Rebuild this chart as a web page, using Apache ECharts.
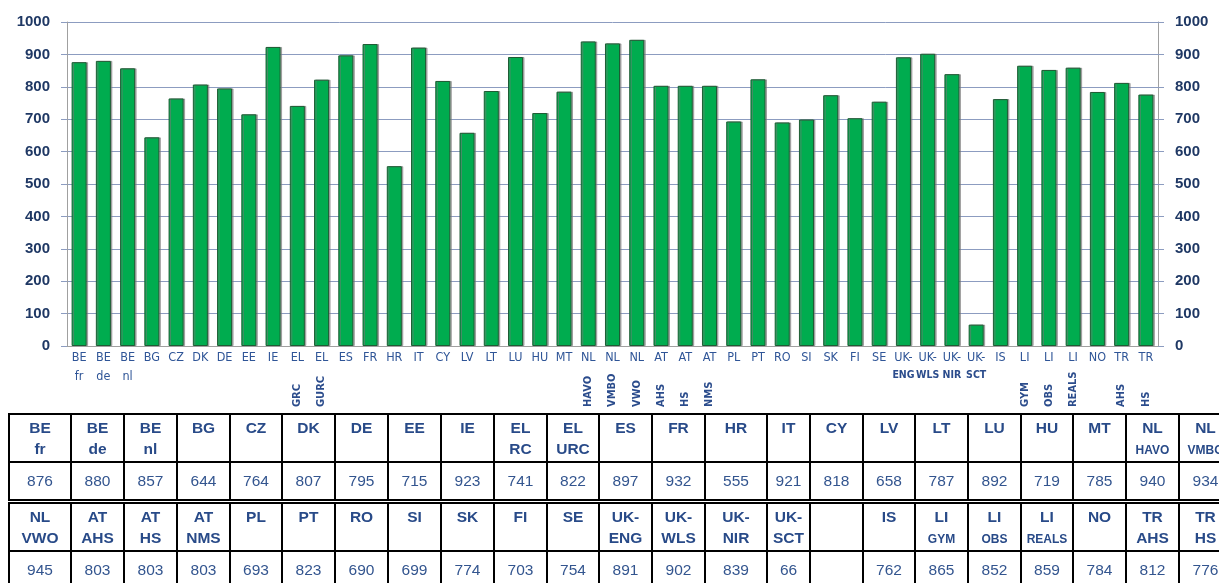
<!DOCTYPE html>
<html>
<head>
<meta charset="utf-8">
<script src="https://cdn.jsdelivr.net/npm/echarts@6/dist/echarts.min.js"></script>
<style>
html,body{margin:0;padding:0;background:#fff;width:1219px;height:583px;overflow:hidden;font-family:'Liberation Sans',Arial,sans-serif;}
#chart{position:absolute;left:0;top:0;width:1219px;height:583px;}
table.t{position:absolute;left:8px;border-collapse:collapse;table-layout:fixed;}
table.t td{border:2px solid #000;text-align:center;padding:0;color:#284A88;overflow:hidden;white-space:nowrap;}
table.t tr.h td{vertical-align:top;font-weight:bold;font-size:15.5px;line-height:21px;padding-top:2px;}
table.t tr.v td{vertical-align:middle;font-size:15.5px;color:#33558F;}
table.t span.s{font-size:12px;}
</style>
</head>
<body>
<div id="chart"></div>
<table class="t" id="t1"></table>
<table class="t" id="t2"></table>
<script>
// ---- data ----
const codes = ['BE','BE','BE','BG','CZ','DK','DE','EE','IE','EL','EL','ES','FR','HR','IT','CY','LV','LT','LU','HU','MT','NL','NL','NL','AT','AT','AT','PL','PT','RO','SI','SK','FI','SE','UK-','UK-','UK-','UK-','IS','LI','LI','LI','NO','TR','TR'];
const subHoriz = ['fr','de','nl','','','','','','','','','','','','','','','','','','','','','','','','','','','','','','','','ENG','WLS','NIR','SCT','','','','','','',''];
const subVert = ['','','','','','','','','','GRC','GURC','','','','','','','','','','','HAVO','VMBO','VWO','AHS','HS','NMS','','','','','','','','','','','','','GYM','OBS','REALS','','AHS','HS'];
const values = [876,880,857,644,764,807,795,715,923,741,822,897,932,555,921,818,658,787,892,719,785,940,934,945,803,803,803,693,823,690,699,774,703,754,891,902,839,66,762,865,852,859,784,812,776];
const yTicks = [0,100,200,300,400,500,600,700,800,900,1000];

// table
const tableHead1 = ['BE','BE','BE','BG','CZ','DK','DE','EE','IE','EL','EL','ES','FR','HR','IT','CY','LV','LT','LU','HU','MT','NL','NL'];
const tableSub1  = ['fr','de','nl','','','','','','','RC','URC','','','','','','','','','','','HAVO','VMBO'];
const tableVal1  = [876,880,857,644,764,807,795,715,923,741,822,897,932,555,921,818,658,787,892,719,785,940,934];
const tableHead2 = ['NL','AT','AT','AT','PL','PT','RO','SI','SK','FI','SE','UK-','UK-','UK-','UK-','','IS','LI','LI','LI','NO','TR','TR'];
const tableSub2  = ['VWO','AHS','HS','NMS','','','','','','','','ENG','WLS','NIR','SCT','','','GYM','OBS','REALS','','AHS','HS'];
const tableVal2  = [945,803,803,803,693,823,690,699,774,703,754,891,902,839,66,'',762,865,852,859,784,812,776];
const smallSubs = ['HAVO','VMBO','GYM','OBS','REALS'];
const colWidths = [62,53,53,53,52,53,53,53,53,53,52,53,53,62,43,53,52,53,53,52,53,53,53];

const categories = codes.map((c,i)=> c + (subHoriz[i]||subVert[i] ? ' '+(subHoriz[i]||subVert[i]) : ''));

function buildTable(id, top, heads, subs, vals, hh, vh){
  const t = document.getElementById(id);
  t.style.top = top+'px';
  let cg = '<colgroup>' + colWidths.map(w=>'<col style="width:'+w+'px">').join('') + '</colgroup>';
  let h = '<tr class="h" style="height:'+hh+'px">' + heads.map((x,i)=>{
    const s = subs[i] ? '<br>' + (smallSubs.includes(subs[i]) ? '<span class="s">'+subs[i]+'</span>' : subs[i]) : '';
    return '<td>'+x+s+'</td>';
  }).join('') + '</tr>';
  let v = '<tr class="v" style="height:'+vh+'px">' + vals.map(x=>'<td>'+x+'</td>').join('') + '</tr>';
  t.innerHTML = cg + h + v;
  t.style.width = colWidths.reduce((a,b)=>a+b,0)+'px';
}
buildTable('t1', 413, tableHead1, tableSub1, tableVal1, 43, 38);
buildTable('t2', 502, tableHead2, tableSub2, tableVal2, 47, 38);

const chart = echarts.init(document.getElementById('chart'));
const labCol = '#2F5597';
const narrow = "'Liberation Sans Narrow','Arial Narrow','DejaVu Sans Condensed',sans-serif";
const yLabel = {fontSize:15, fontWeight:'bold', color:'#1F3864', fontFamily:"'Liberation Sans',Arial,sans-serif", formatter:v=>String(v)};
chart.setOption({
  animation:false,
  grid:{left:67,right:61,top:22,bottom:237,containLabel:false},
  xAxis:[{
    type:'category', data:categories, position:'bottom',
    axisLine:{show:true,lineStyle:{color:'#A0A0A0',width:1}},
    axisTick:{show:false},
    axisLabel:{interval:0, margin:2, color:labCol, fontFamily:narrow,
      formatter:(v,i)=>{
        if(!subHoriz[i]) return '{a|'+codes[i]+'}';
        return '{a|'+codes[i]+'}\n{'+(codes[i]==='UK-'?'c':'b')+'|'+subHoriz[i]+'}';
      },
      rich:{
        a:{fontSize:12.5,lineHeight:19,color:labCol,fontFamily:narrow},
        b:{fontSize:12.5,lineHeight:19,color:labCol,fontFamily:narrow},
        c:{fontSize:10.5,fontWeight:'bold',lineHeight:17,color:'#2B4C8C',fontFamily:narrow}
      }
    }
  },{
    type:'category', data:categories, position:'bottom',
    axisLine:{show:false}, axisTick:{show:false}, splitLine:{show:false},
    axisLabel:{interval:0, rotate:90, align:'left', verticalAlign:'middle', margin:61,
      fontSize:11, fontWeight:'bold', color:'#2B4C8C', fontFamily:narrow,
      formatter:(v,i)=>subVert[i]}
  }],
  yAxis:[{
    type:'value', min:yTicks[0], max:yTicks[yTicks.length-1], interval:100, position:'left',
    axisLine:{show:true,lineStyle:{color:'#A0A0A0'}},
    axisTick:{show:true,length:6,lineStyle:{color:'#8C9CC0'}},
    splitLine:{show:true,lineStyle:{color:'#8C9CC0',width:1}},
    axisLabel:Object.assign({margin:17},yLabel)
  },{
    type:'value', min:yTicks[0], max:yTicks[yTicks.length-1], interval:100, position:'right',
    axisLine:{show:true,lineStyle:{color:'#A0A0A0'}},
    axisTick:{show:true,length:6,lineStyle:{color:'#8C9CC0'}},
    splitLine:{show:false},
    axisLabel:Object.assign({margin:17},yLabel)
  }],
  series:[{
    type:'bar', data:values, xAxisIndex:0, yAxisIndex:0, barWidth:'62%',
    itemStyle:{color:'#00AC4F',borderColor:'#1E5C34',borderWidth:1,
      shadowColor:'rgba(120,120,120,0.6)',shadowOffsetX:1.5,shadowOffsetY:0,shadowBlur:0}
  }]
});
</script>
</body>
</html>
